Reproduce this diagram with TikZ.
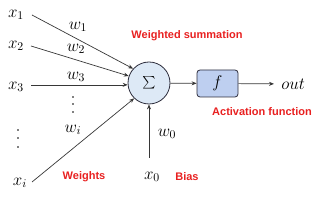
\documentclass[tikz,border=0pt]{standalone}
\usepackage{fontspec}
\newfontfamily\labfont{Liberation Sans}
\usetikzlibrary{arrows.meta}
\definecolor{sumfill}{RGB}{221,233,246}
\definecolor{boxfill}{RGB}{190,207,240}
\definecolor{edge}{RGB}{45,45,60}
\definecolor{labred}{RGB}{232,32,32}
\definecolor{wire}{RGB}{55,55,55}
\tikzset{
  mathlab/.style={inner sep=1pt, font=\Large, scale=1.18},
  inp/.style={inner sep=1pt, font=\Large, scale=1.18},
  redlab/.style={inner sep=0pt, text=labred, font=\labfont\fontsize{11}{13}\selectfont\bfseries},
  wirearrow/.style={draw=wire, line width=0.7pt, -{Stealth[length=5pt,width=4pt]}},
  vdots/.style={circle, fill=black, inner sep=0pt, minimum size=1.6pt},
}
\begin{document}
\begin{tikzpicture}[x=1pt,y=1pt]
\useasboundingbox (0,0) rectangle (319,200);
\node[circle, draw=edge, line width=0.8pt, fill=sumfill, minimum size=42pt, inner sep=0pt] (s) at (149,117) {\scalebox{1.25}{\Large$\sum$}};
\node[draw=edge, line width=0.8pt, fill=boxfill, rounded corners=3pt, minimum width=41pt, minimum height=27pt, inner sep=0pt] (f) at (217.5,116.5) {\scalebox{1.18}{\Large$f$}};
\node[mathlab, anchor=west] (out) at (280,116) {$out$};
\node[inp] (x1) at (16,185) {$x_1$};
\node[inp] (x2) at (16,154) {$x_2$};
\node[inp] (x3) at (16,113) {$x_3$};
\node[inp] (xi) at (20,17) {$x_i$};
\node[inp] (x0) at (152,23) {$x_0$};
\node[mathlab] (w1) at (78,173) {$w_1$};
\node[mathlab] (w2) at (76,151) {$w_2$};
\node[mathlab] (w3) at (76,123) {$w_3$};
\node[mathlab] (wi) at (73,70) {$w_i$};
\node[mathlab] (w0) at (167,66) {$w_0$};
\node[vdots] (d1) at (73,103) {};
\node[vdots] (d2) at (73,96) {};
\node[vdots] (d3) at (73,88) {};
\node[vdots] (e1) at (18,70) {};
\node[vdots] (e2) at (18,62) {};
\node[vdots] (e3) at (18,53) {};
\node[redlab] (ws) at (187,164) {Weighted summation};
\node[redlab] (af) at (262,88) {Activation function};
\node[redlab] (wt) at (84,23) {Weights};
\node[redlab] (bs) at (187,23) {Bias};
\coordinate (x1s) at (32,185);
\coordinate (x2s) at (31,154);
\coordinate (x3s) at (31,115);
\coordinate (xis) at (32,18);
\coordinate (x0s) at (149,42);
\draw[wirearrow] (x1s) -- (s.138);
\draw[wirearrow] (x2s) -- (s.161);
\draw[wirearrow] (s.185 -| x3s) -- (s.185);
\draw[wirearrow] (xis) -- (s.226);
\draw[wirearrow] (x0s) -- (s.south);
\draw[wirearrow] (s) -- (f);
\draw[wirearrow, shorten >=6pt] (f) -- (out);
\end{tikzpicture}
\end{document}
